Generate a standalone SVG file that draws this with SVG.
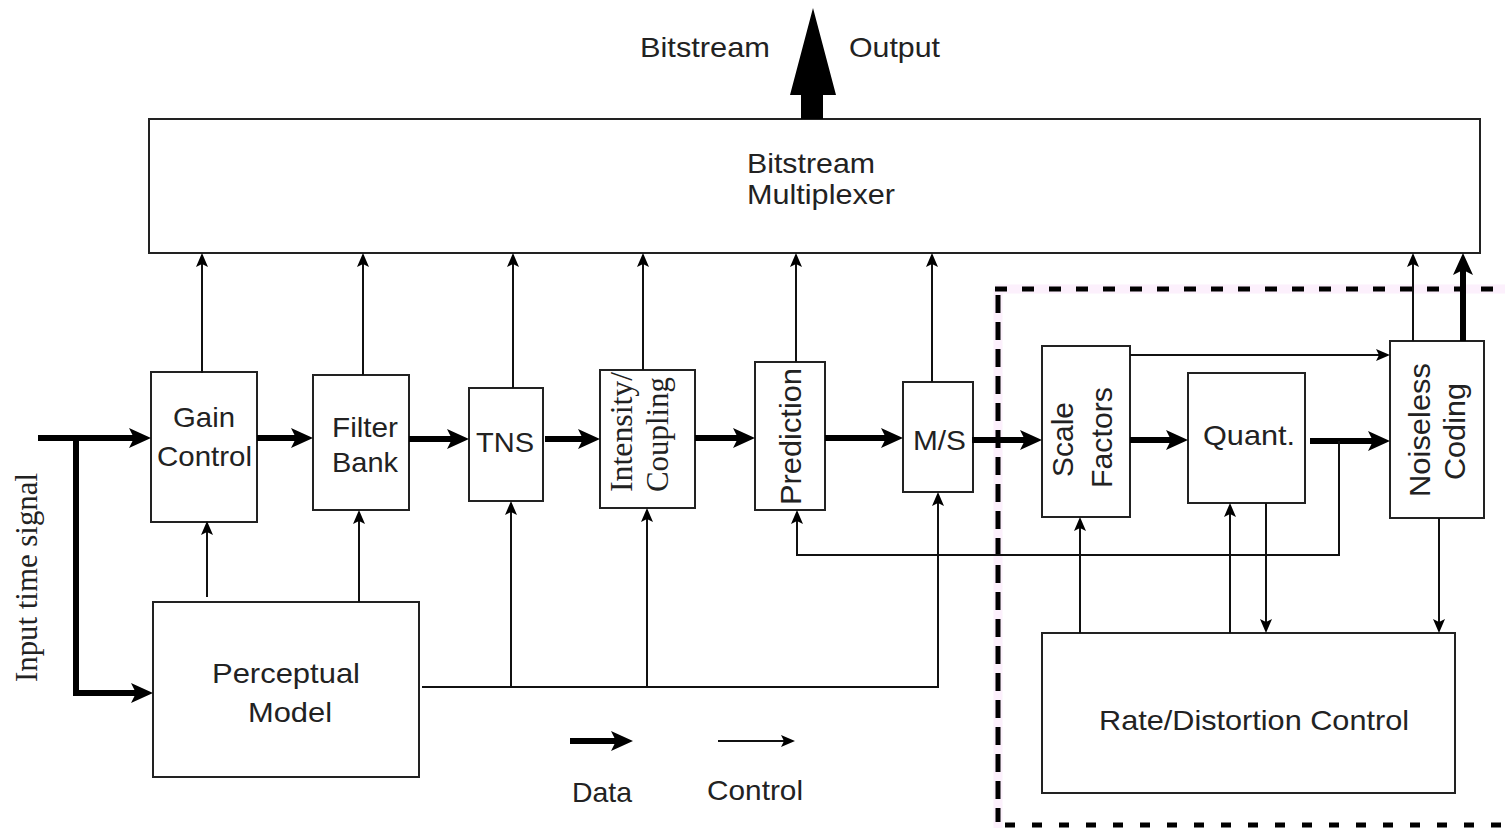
<svg xmlns="http://www.w3.org/2000/svg" width="1505" height="828" viewBox="0 0 1505 828">
<style>
.box{fill:#fff;stroke:#222;stroke-width:2}
.t{font-family:"Liberation Sans",Arial,sans-serif;font-size:28px;fill:#222}
.tr{font-family:"Liberation Sans",Arial,sans-serif;font-size:30px;fill:#222}
.ts{font-family:"Liberation Serif","Times New Roman",serif;font-size:31px;fill:#222}
.data{fill:none;stroke:#000;stroke-width:6;marker-end:url(#dh)}
.ctrl{fill:none;stroke:#111;stroke-width:2;marker-end:url(#ch)}
.plain{fill:none;stroke:#111;stroke-width:2}
</style>
<defs>
<marker id="dh" markerUnits="userSpaceOnUse" markerWidth="22" markerHeight="22" viewBox="0 0 22 22" refX="8" refY="11" orient="auto"><path d="M0,1 L22,11 L0,21 L5,11 z" fill="#000"/></marker>
<marker id="ch" markerUnits="userSpaceOnUse" markerWidth="14" markerHeight="14" viewBox="0 0 14 14" refX="5" refY="7" orient="auto"><path d="M0,1 L14,7 L0,13 L3,7 z" fill="#000"/></marker>
</defs>
<rect width="1505" height="828" fill="#fff"/>

<g id="region">
<path d="M995,289 H1505 M998,289 V828" stroke="#fcf0fc" stroke-width="9" fill="none"/>
<path d="M995,289 H1505" stroke="#000" stroke-width="5" stroke-dasharray="12 15" fill="none"/>
<path d="M998,295 V822" stroke="#000" stroke-width="5" stroke-dasharray="18 9" fill="none"/>
<path d="M1005,825 H1505" stroke="#000" stroke-width="5" stroke-dasharray="10 17" fill="none"/>
</g>

<g id="mux"><rect class="box" x="149" y="119" width="1331" height="134"/>
<text class="t" x="747" y="173" textLength="128" lengthAdjust="spacingAndGlyphs">Bitstream</text>
<text class="t" x="747" y="204" textLength="148" lengthAdjust="spacingAndGlyphs">Multiplexer</text></g>

<g id="gain"><rect class="box" x="151" y="372" width="106" height="150"/>
<text class="t" x="204" y="427" text-anchor="middle" textLength="62" lengthAdjust="spacingAndGlyphs">Gain</text>
<text class="t" x="204.5" y="466" text-anchor="middle" textLength="95" lengthAdjust="spacingAndGlyphs">Control</text></g>

<g id="filter"><rect class="box" x="313" y="375" width="96" height="135"/>
<text class="t" x="365" y="437" text-anchor="middle" textLength="66" lengthAdjust="spacingAndGlyphs">Filter</text>
<text class="t" x="365" y="472" text-anchor="middle" textLength="66" lengthAdjust="spacingAndGlyphs">Bank</text></g>

<g id="tns"><rect class="box" x="469" y="388" width="74" height="113"/>
<text class="t" x="505" y="452" text-anchor="middle" textLength="58" lengthAdjust="spacingAndGlyphs">TNS</text></g>

<g id="intensity"><rect class="box" x="600" y="370" width="95" height="138"/>
<text class="ts" transform="translate(632,492) rotate(-90)" textLength="120" lengthAdjust="spacingAndGlyphs">Intensity/</text>
<text class="ts" transform="translate(668,492) rotate(-90)" textLength="115" lengthAdjust="spacingAndGlyphs">Coupling</text></g>

<g id="prediction"><rect class="box" x="755" y="362" width="70" height="148"/>
<text class="tr" transform="translate(801,436.5) rotate(-90)" text-anchor="middle" textLength="137" lengthAdjust="spacingAndGlyphs">Prediction</text></g>

<g id="ms"><rect class="box" x="903" y="382" width="70" height="110"/>
<text class="t" x="939.5" y="450" text-anchor="middle" textLength="53" lengthAdjust="spacingAndGlyphs">M/S</text></g>

<g id="scale"><rect class="box" x="1042" y="346" width="88" height="171"/>
<text class="tr" transform="translate(1073,439.5) rotate(-90)" text-anchor="middle" textLength="75" lengthAdjust="spacingAndGlyphs">Scale</text>
<text class="tr" transform="translate(1112,437.5) rotate(-90)" text-anchor="middle" textLength="101" lengthAdjust="spacingAndGlyphs">Factors</text></g>

<g id="quant"><rect class="box" x="1188" y="373" width="117" height="130"/>
<text class="t" x="1249" y="445" text-anchor="middle" textLength="92" lengthAdjust="spacingAndGlyphs">Quant.</text></g>

<g id="noiseless"><rect class="box" x="1390" y="341" width="94" height="177"/>
<text class="tr" transform="translate(1430,430) rotate(-90)" text-anchor="middle" textLength="134" lengthAdjust="spacingAndGlyphs">Noiseless</text>
<text class="tr" transform="translate(1465,431.5) rotate(-90)" text-anchor="middle" textLength="97" lengthAdjust="spacingAndGlyphs">Coding</text></g>

<g id="perceptual"><rect class="box" x="153" y="602" width="266" height="175"/>
<text class="t" x="286" y="683" text-anchor="middle" textLength="148" lengthAdjust="spacingAndGlyphs">Perceptual</text>
<text class="t" x="290" y="722" text-anchor="middle" textLength="84" lengthAdjust="spacingAndGlyphs">Model</text></g>

<g id="rd"><rect class="box" x="1042" y="633" width="413" height="160"/>
<text class="t" x="1254" y="730" text-anchor="middle" textLength="310" lengthAdjust="spacingAndGlyphs">Rate/Distortion Control</text></g>

<g id="labels">
<text class="t" x="705" y="57" text-anchor="middle" textLength="130" lengthAdjust="spacingAndGlyphs">Bitstream</text>
<text class="t" x="894.5" y="57" text-anchor="middle" textLength="91" lengthAdjust="spacingAndGlyphs">Output</text>
<text class="ts" transform="translate(37,682) rotate(-90)" textLength="209" lengthAdjust="spacingAndGlyphs">Input time signal</text>
<text class="t" x="602" y="802" text-anchor="middle" textLength="60" lengthAdjust="spacingAndGlyphs">Data</text>
<text class="t" x="755" y="800" text-anchor="middle" textLength="96" lengthAdjust="spacingAndGlyphs">Control</text>
</g>

<g id="connectors">
<polygon points="813,8 836,95 823,95 823,119 801,119 801,95 790,95" fill="#000"/>
<path class="data" d="M38,438 H137"/>
<path class="data" d="M76,435 V693 H139"/>
<path class="data" d="M257,438 H299"/>
<path class="data" d="M409,439 H455"/>
<path class="data" d="M545,439 H586"/>
<path class="data" d="M695,438 H741"/>
<path class="data" d="M825,438 H889"/>
<path class="data" d="M972,440 H1028"/>
<path class="data" d="M1130,440 H1174"/>
<path class="data" d="M1310,441 H1376"/>
<path class="data" d="M1463,341 V267"/>
<path class="data" d="M570,741 H619"/>

<path class="ctrl" d="M202,373 V262"/>
<path class="ctrl" d="M363,375 V262"/>
<path class="ctrl" d="M513,388 V262"/>
<path class="ctrl" d="M643,370 V262"/>
<path class="ctrl" d="M796,362 V262"/>
<path class="ctrl" d="M932,382 V262"/>
<path class="ctrl" d="M1413,341 V262"/>
<path class="ctrl" d="M207,597 V530"/>
<path class="ctrl" d="M359,602 V519"/>
<path class="ctrl" d="M422,687 H938 V501"/>
<path class="ctrl" d="M511,687 V510"/>
<path class="ctrl" d="M647,687 V517"/>
<path class="ctrl" d="M1130,355 H1381"/>
<path class="ctrl" d="M1339,441 V555 H797 V519"/>
<path class="ctrl" d="M1080,633 V526"/>
<path class="ctrl" d="M1230,633 V512"/>
<path class="ctrl" d="M1266,503 V624"/>
<path class="ctrl" d="M1439,518 V624"/>
<path class="ctrl" d="M718,741 H786"/>
</g>
</svg>
